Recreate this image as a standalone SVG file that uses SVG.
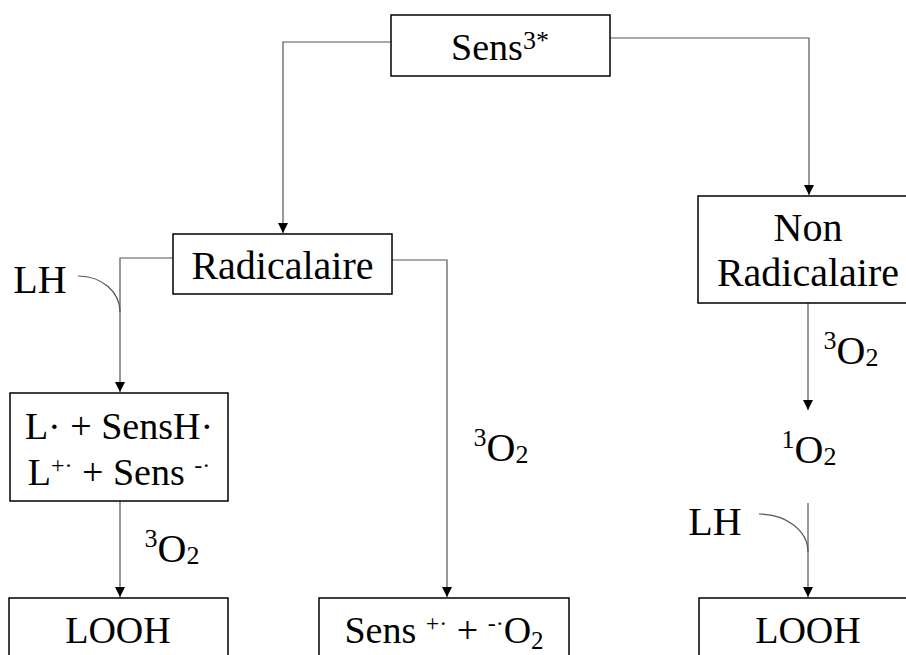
<svg xmlns="http://www.w3.org/2000/svg" width="906" height="655" viewBox="0 0 906 655">
<style>
.box{fill:#fff;stroke:#000;stroke-width:1.5}
.t{font-family:"Liberation Serif","Times New Roman",serif;font-size:38px;fill:#000}
.big{font-size:40px}
.c{fill:none;stroke:#555;stroke-width:1.2}
.m{font-size:40px}
</style>
<defs>
<marker id="ah" markerUnits="userSpaceOnUse" markerWidth="10" markerHeight="10" refX="10" refY="5" orient="auto">
<path d="M0,0 L10,5 L0,10 z" fill="#000"/>
</marker>
</defs>
<rect width="906" height="655" fill="#fff"/>
<g id="connectors">
<path class="c" d="M391,42 H283 V233" marker-end="url(#ah)"/>
<path class="c" d="M610,38 H809 V195" marker-end="url(#ah)"/>
<path class="c" d="M173,258 H120 V392" marker-end="url(#ah)"/>
<path class="c" d="M392,260 H447 V597" marker-end="url(#ah)"/>
<path class="c" d="M120,501 V597" marker-end="url(#ah)"/>
<path class="c" d="M808,303 V410" marker-end="url(#ah)"/>
<path class="c" d="M808,503 V597" marker-end="url(#ah)"/>
<path class="c" d="M78,276 C102,276 120,292 120,312"/>
<path class="c" d="M759,514 C785,514 808,530 808,552"/>
</g>
<g id="sens3">
<rect class="box" x="391" y="15" width="219" height="61"/>
<text class="t" x="500" y="60" text-anchor="middle">Sens<tspan font-size="26" dy="-11">3*</tspan></text>
</g>
<g id="radicalaire">
<rect class="box" x="173" y="234" width="219" height="60"/>
<text class="t big" x="282.5" y="279" text-anchor="middle">Radicalaire</text>
</g>
<g id="nonradicalaire">
<rect class="box" x="698" y="196" width="220" height="107"/>
<text class="t big" x="808" y="241" text-anchor="middle">Non</text>
<text class="t big" x="808" y="286" text-anchor="middle">Radicalaire</text>
</g>
<g id="lradicaux">
<rect class="box" x="10" y="393" width="218" height="108"/>
<text class="t" x="119" y="439" text-anchor="middle">L· + SensH·</text>
<text class="t" x="119" y="485" text-anchor="middle">L<tspan font-size="24" dy="-12">+·</tspan><tspan dy="12"> + Sens </tspan><tspan font-size="24" dy="-12">-·</tspan></text>
</g>
<g id="looh1">
<rect class="box" x="9" y="598" width="219" height="70"/>
<text class="t" x="118" y="643" text-anchor="middle">LOOH</text>
</g>
<g id="sensplus">
<rect class="box" x="319" y="598" width="250" height="70"/>
<text class="t" x="444" y="643" text-anchor="middle">Sens <tspan font-size="24" dy="-12">+·</tspan><tspan dy="12"> + </tspan><tspan font-size="24" dy="-12">-·</tspan><tspan dy="12">O</tspan><tspan font-size="25" dy="6">2</tspan></text>
</g>
<g id="looh2">
<rect class="box" x="699" y="598" width="219" height="70"/>
<text class="t" x="808" y="643" text-anchor="middle">LOOH</text>
</g>
<g id="labels">
<text class="t m" x="172" y="562" text-anchor="middle"><tspan font-size="26" dy="-15">3</tspan><tspan dy="15">O</tspan><tspan font-size="26" dy="2">2</tspan></text>
<text class="t m" x="501" y="461" text-anchor="middle"><tspan font-size="26" dy="-15">3</tspan><tspan dy="15">O</tspan><tspan font-size="26" dy="2">2</tspan></text>
<text class="t m" x="851" y="364" text-anchor="middle"><tspan font-size="26" dy="-15">3</tspan><tspan dy="15">O</tspan><tspan font-size="26" dy="2">2</tspan></text>
<text class="t m" x="809" y="463" text-anchor="middle"><tspan font-size="26" dy="-15">1</tspan><tspan dy="15">O</tspan><tspan font-size="26" dy="2">2</tspan></text>
<text class="t big" x="40" y="293" text-anchor="middle">LH</text>
<text class="t big" x="715" y="535" text-anchor="middle">LH</text>
</g>
</svg>
